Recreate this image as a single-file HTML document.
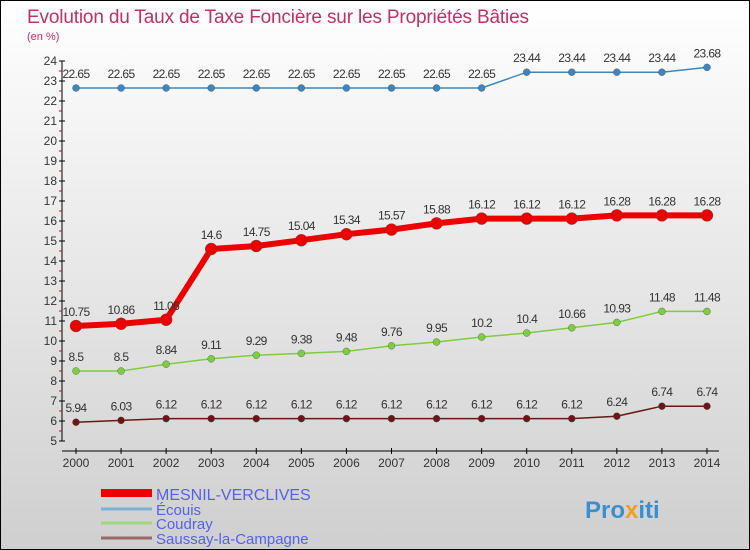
<!DOCTYPE html>
<html><head><meta charset="utf-8">
<style>
body{margin:0}
#c{width:750px;height:550px;position:relative;box-sizing:border-box;border:1px solid #000;background:linear-gradient(#fff,#cfcfcf);overflow:hidden;font-family:"Liberation Sans",sans-serif}
</style></head><body>
<div id="c">
<svg id="s" width="750" height="550" style="position:absolute;left:0;top:0;font-family:'Liberation Sans',sans-serif">
<text x="26" y="22" font-size="19" fill="#c0306a" textLength="502">Evolution du Taux de Taxe Foncière sur les Propriétés Bâties</text>
<text x="26" y="39" font-size="11" fill="#c0306a">(en %)</text>
<g id="axes"></g><g id="series"></g><g id="legend"></g>
<text x="584" y="517" font-size="24" font-weight="bold" fill="#3a8fd0">Pro<tspan fill="#f0a020">x</tspan>iti</text>
</svg>
</div>
<script>
const years=[2000,2001,2002,2003,2004,2005,2006,2007,2008,2009,2010,2011,2012,2013,2014];
const mesnil=[10.75,10.86,11.06,14.6,14.75,15.04,15.34,15.57,15.88,16.12,16.12,16.12,16.28,16.28,16.28];
const ecouis=[22.65,22.65,22.65,22.65,22.65,22.65,22.65,22.65,22.65,22.65,23.44,23.44,23.44,23.44,23.68];
const coudray=[8.5,8.5,8.84,9.11,9.29,9.38,9.48,9.76,9.95,10.2,10.4,10.66,10.93,11.48,11.48];
const saussay=[5.94,6.03,6.12,6.12,6.12,6.12,6.12,6.12,6.12,6.12,6.12,6.12,6.24,6.74,6.74];
const yTicks=[5,6,7,8,9,10,11,12,13,14,15,16,17,18,19,20,21,22,23,24];
const seriesNames=["MESNIL-VERCLIVES","Écouis","Coudray","Saussay-la-Campagne"];
const NS="http://www.w3.org/2000/svg";
const X=i=>75+i*45.07, Y=v=>440-(v-5)*20;
function mk(t,a,p){const e=document.createElementNS(NS,t);for(const k in a)e.setAttribute(k,a[k]);p.appendChild(e);return e;}
const ax=document.getElementById('axes');
let yl=mk('line',{x1:61,y1:Y(24),x2:61,y2:Y(5),stroke:'#000'},ax);

let xl=mk('line',{x1:61,y1:450,x2:718,y2:450,stroke:'#000'},ax);

yTicks.forEach(v=>{
  mk('line',{x1:58,x2:64,y1:Y(v),y2:Y(v),stroke:'#000'},ax);
  if(v<24)mk('line',{x1:58,x2:61,y1:Y(v+0.5),y2:Y(v+0.5),stroke:'#e00'},ax);
  const t=mk('text',{x:56,y:Y(v)+4,'font-size':12,'text-anchor':'end',fill:'#333'},ax);t.textContent=v;
  
});
years.forEach((y,i)=>{
  mk('line',{x1:X(i),x2:X(i),y1:447,y2:453,stroke:'#000'},ax);
  const t=mk('text',{x:X(i),y:466,'font-size':12,'text-anchor':'middle',fill:'#333'},ax);t.textContent=y;
  
});
const sg=document.getElementById('series');
function draw(vals,color,w,r,name){
  const g=mk('g',{},sg);
  const pl=mk('polyline',{points:vals.map((v,i)=>X(i)+','+Y(v)).join(' '),fill:'none',stroke:color,'stroke-width':w},g);
  
  vals.forEach((v,i)=>{
    const c=mk('circle',{cx:X(i),cy:Y(v),r:r,fill:color,stroke:'#555','stroke-width':0.4},g);
    
    const t=mk('text',{x:X(i),y:Y(v)-10,'font-size':12,'text-anchor':'middle',fill:'#333','letter-spacing':'-0.6'},g);t.textContent=v;
    
  });
}
draw(ecouis,'#3d86c0',1.5,3.5,'ecouis');
draw(coudray,'#7ccd40',1.5,3.5,'coudray');
draw(saussay,'#6b1515',1.5,3.5,'saussay');
draw(mesnil,'#ee0000',6,6,'mesnil');
const lg=document.getElementById('legend');
const lc=['#ee0000','#7fb0d8','#a0d880','#9a6a6a'],lw=[8,3,3,3],ly=[492,508,522,537];
seriesNames.forEach((n,i)=>{
  const l=mk('line',{x1:100,x2:151,y1:ly[i],y2:ly[i],stroke:lc[i],'stroke-width':lw[i]},lg);
  
  const t=mk('text',{x:155,y:ly[i]+(i==0?7:6),'font-size':i==0?16:15,fill:'#5560ee'},lg);t.textContent=n;
  
});
</script>
</body></html>
